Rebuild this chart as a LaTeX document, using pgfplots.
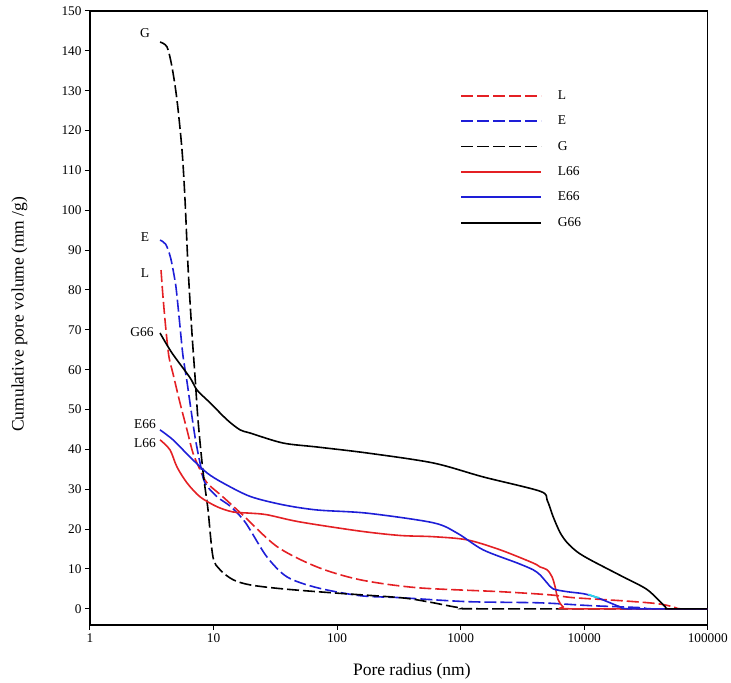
\documentclass[border=0pt]{standalone}
\usepackage{fontspec}
\setmainfont{Liberation Serif}
\usepackage{pgfplots}
\pgfplotsset{compat=1.18}
\definecolor{cred}{RGB}{228,32,36}
\definecolor{cblue}{RGB}{30,30,215}
\definecolor{ccyan}{RGB}{40,220,235}
\begin{document}
\begin{tikzpicture}
\begin{axis}[
  name=ax,
  scale only axis,
  width=618pt, height=614pt,
  xmode=log,
  xmin=1, xmax=100000,
  ymin=-4, ymax=150,
  xtick={1,10,100,1000,10000,100000},
  xticklabels={1,10,100,1000,10000,100000},
  ytick={0,10,...,150},
  minor xtick={}, minor ytick={},
  xminorticks=false,
  tick align=outside,
  xtick pos=bottom, ytick pos=left,
  major tick length=5pt,
  every tick/.style={black, line width=1pt},
  axis line style={line width=1.5pt},
  /pgf/number format/assume math mode=true,
  tick label style={font=\fontsize{13.3}{14}\selectfont},
  yticklabel style={/pgf/number format/.cd, fixed, precision=0},
  log ticks with fixed point,
  xlabel={Pore radius (nm)},
  ylabel={Cumulative pore volume (mm /g)},
  label style={font=\fontsize{17.5}{19}\selectfont},
  xlabel style={at={(axis description cs:0.521,-0.0765)}, anchor=center},
  ylabel style={at={(axis description cs:-0.114,0.506)}, anchor=center, rotate=0},
  clip=false,
  legend cell align=left,
  legend entries={L,E,G,L66,E66,G66},
  legend style={draw=none, fill=none, at={(axis description cs:0.599,0.874)}, anchor=north west,
    inner xsep=0pt, inner ysep=0pt, row sep=11pt, column sep=14pt,
    font=\fontsize{13.5}{14}\selectfont, nodes={inner sep=2pt}},
]
\addlegendimage{legend image code/.code={\draw[cred, line width=1.7pt, dash pattern=on 12pt off 4pt] (0pt,0pt) -- (80pt,0pt);}}
\addlegendimage{legend image code/.code={\draw[cblue, line width=1.7pt, dash pattern=on 12pt off 4pt] (0pt,0pt) -- (80pt,0pt);}}
\addlegendimage{legend image code/.code={\draw[black, line width=1.7pt, dash pattern=on 12pt off 4pt] (0pt,0pt) -- (80pt,0pt);}}
\addlegendimage{legend image code/.code={\draw[cred, line width=1.7pt] (0pt,0pt) -- (80pt,0pt);}}
\addlegendimage{legend image code/.code={\draw[cblue, line width=1.7pt] (0pt,0pt) -- (80pt,0pt);}}
\addlegendimage{legend image code/.code={\draw[black, line width=1.7pt] (0pt,0pt) -- (80pt,0pt);}}
% L (red dashed)
\addplot[cred, line width=1.6pt, smooth, dash pattern=on 12pt off 4pt] table {
3.76 85
3.90 78.3
4.12 70
4.36 63.2
4.70 59
5.35 51.7
6.10 44.9
6.82 39.1
7.78 34.9
8.86 31.6
11.9 28.1
17.3 23.5
32.7 15.6
68.9 10.5
153 7.3
444 5.3
2090 4.3
5300 3.5
8150 2.8
20700 2
39000 1.3
52600 0.5
60000 0
100000 0
};
% E (blue dashed)
\addplot[cblue, line width=1.6pt, smooth, dash pattern=on 12pt off 4pt] table {
3.69 92.5
4.10 91.5
4.50 88
4.90 82
5.06 78.5
5.35 71
5.66 63.5
6.10 57
6.45 51.7
7.09 43.1
7.78 36.6
8.52 31.6
10.7 28.1
13.6 25.8
17.3 22.5
19.8 19.8
27.1 13
39.4 8
68.9 5.3
153 3.3
324 2.8
1130 1.8
4400 1.5
11190 0.8
28400 0.3
35000 0
100000 0
};
% G (black dashed)
\addplot[black, line width=1.6pt, smooth, dash pattern=on 12pt off 4pt] table {
3.69 142.2
4.20 141
4.61 136
5.06 127.7
5.56 115.1
5.88 102.6
6.22 85.8
6.69 69.2
7.09 58.2
7.49 47.4
8.08 36.6
8.52 30.6
9.03 24.8
9.90 13
11.3 9.8
14.4 7.3
19.8 6
36.5 5
92.8 4
324 2.8
536 1.8
991 0.25
1500 0
100000 0
};
% L66 (red solid)
\addplot[cred, line width=1.6pt, smooth] table {
3.69 42.4
4.44 39.9
5.06 35.6
6.10 31.6
7.78 28.1
10.7 25.6
14.4 24.3
19.8 24
27.1 23.6
50 21.8
153 19.5
324 18.4
599 18.1
1130 17.3
2090 14.8
3860 11.5
4400 10.5
5010 9.8
5500 8
5820 5.5
6150 2.3
6760 0.5
7700 0
100000 0
};
% E66 (blue solid)
\addplot[cblue, line width=1.6pt, smooth] table {
3.69 44.9
4.70 42.4
6.45 38.1
8.86 34.1
11.9 31.6
19.8 28.2
36.5 26.1
68.9 24.8
175 24
599 21.6
937 19
1520 14.8
2870 11.5
3860 9.8
4400 8.5
5010 6.5
5610 5
7280 4.3
9820 3.8
12280 3
16240 1.5
19550 0.5
23560 0
100000 0
};
% G66 (black solid)
\addplot[black, line width=1.6pt, smooth] table {
3.69 69.2
4.61 64.2
6.45 58
7.35 54.9
9.37 51.7
12.9 47.4
16.4 44.9
19.8 44.1
36.5 41.6
68.9 40.6
175 39.1
599 36.6
1520 33.1
4400 29.5
5010 27.3
5610 23.1
6390 19.1
7280 16.6
8770 14.3
11190 12.3
20700 8
32400 4.8
45300 0.5
48000 0
100000 0
};
% short cyan piece on E66
\addplot[ccyan, line width=1.6pt, smooth] table {
10770 3.65
12280 3.0
13220 2.8
};
\node[font=\fontsize{13.5}{14}\selectfont] at (axis cs:2.79,144.5) {G};
\node[font=\fontsize{13.5}{14}\selectfont] at (axis cs:2.79,93.3) {E};
\node[font=\fontsize{13.5}{14}\selectfont] at (axis cs:2.79,84.3) {L};
\node[font=\fontsize{13.5}{14}\selectfont] at (axis cs:2.64,69.4) {G66};
\node[font=\fontsize{13.5}{14}\selectfont] at (axis cs:2.79,46.4) {E66};
\node[font=\fontsize{13.5}{14}\selectfont] at (axis cs:2.79,41.6) {L66};
\end{axis}
\path (ax.south west) ++(-90pt,-57pt) rectangle ++(731pt,682pt);
\end{tikzpicture}
\end{document}
